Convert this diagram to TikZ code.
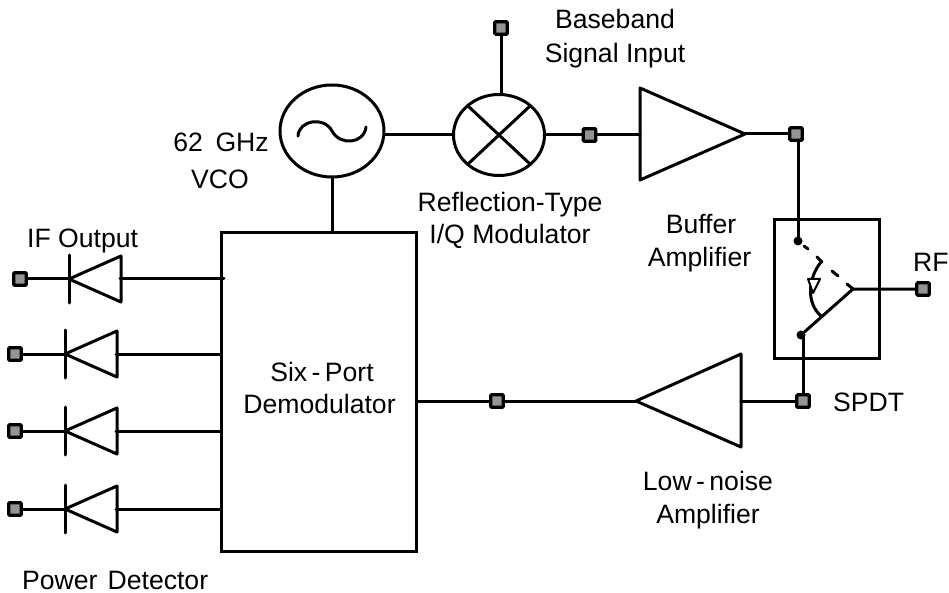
\documentclass[tikz,border=0pt]{standalone}
\usepackage{fontspec}
\setmainfont{Liberation Sans}
\usetikzlibrary{shapes.geometric,calc}
\tikzset{
 wire/.style={line width=3pt,line cap=round,line join=round},
 term/.style={draw=black,fill=black!42,line width=3.2pt,rounded corners=1pt,minimum size=12.5pt,inner sep=0pt},
 circuit/.style={draw=black,line width=3pt,ellipse,inner sep=0pt},
 lbl/.style={anchor=base,inner sep=0pt,font=\fontsize{26.6}{30}\selectfont},
 lbll/.style={lbl,anchor=base west},
 dot/.style={circle,fill=black,inner sep=0pt,minimum size=9pt},
}
\begin{document}
\begin{tikzpicture}[x=1pt,y=-1pt]
\useasboundingbox (0,0) rectangle (949,593);
% blocks
\node[draw=black,line width=3pt,minimum width=195pt,minimum height=318pt,inner sep=0pt] (demod) at (318.5,392) {};
\node[draw=black,line width=3pt,minimum width=105pt,minimum height=138pt,inner sep=0pt] (spdt) at (826.5,289) {};
\node[circuit,minimum width=104pt,minimum height=92pt] (vco) at (332,131) {};
\node[circuit,minimum width=91pt,minimum height=81pt] (mix) at (499,135) {};
% terminals
\node[term] (tbb) at (501,28) {};
\node[term] (tmod) at (589.5,135) {};
\node[term] (tbuf) at (796,134) {};
\node[term] (trf) at (923,289) {};
\node[term] (tlna) at (803,401) {};
\node[term] (tdem) at (497,401) {};
\node[term] (td1) at (20,279) {};
\node[term] (td2) at (15,354) {};
\node[term] (td3) at (15,431) {};
\node[term] (td4) at (15,509) {};
% amplifiers
\coordinate (bufl) at (640,135); \coordinate (bufr) at (745,134);
\draw[wire] (640,88) -- (bufr) -- (640,180) -- cycle;
\coordinate (lnal) at (636,401); \coordinate (lnar) at (741,401);
\draw[wire] (741,354) -- (lnal) -- (741,447) -- cycle;
% mixer cross
\draw[wire] ($(mix.center)+(-31,-29)$) -- ($(mix.center)+(31,29)$);
\draw[wire] ($(mix.center)+(-31,29)$) -- ($(mix.center)+(31,-29)$);
% sine
\draw[wire] (298,136) .. controls (299,120) and (324,116) .. (332,131) .. controls (340,146) and (364,144) .. (366,127);
% diodes
\foreach \n/\x/\y in {1/69/279,2/65/354,3/65/431,4/65/509}{
  \coordinate (dk\n) at (\x,\y);
  \coordinate (da\n) at (\x+51,\y);
  \draw[wire] (\x,\y-24) -- (\x,\y+24);
  \draw[wire] (dk\n) -- (\x+52,\y-23) -- (\x+52,\y+23) -- cycle;
  \draw[wire] (td\n) -- (dk\n);
}
\coordinate (dm1) at (224,279);
\coordinate (dm2) at (221,354);
\coordinate (dm3) at (221,431);
\coordinate (dm4) at (221,509);
\draw[wire] (da1) -- (dm1);
\draw[wire] (da2) -- (dm2);
\draw[wire] (da3) -- (dm3);
\draw[wire] (da4) -- (dm4);
% connectors
\draw[wire] (vco.south) -- (vco.south |- demod.north);
\draw[wire] (mix.west) -- (mix.west -| vco.east);
\draw[wire] (tbb) -- (mix.north -| tbb);
\draw[wire] (mix.east) -- (tmod);
\draw[wire] (tmod) -- (bufl);
\draw[wire] (bufr) -- (tbuf);
\draw[wire] (tdem -| demod.east) -- (tdem);
\draw[wire] (tdem) -- (lnal);
\draw[wire] (lnar) -- (tlna);
% switch
\node[dot] (swa) at (798,241) {};
\node[dot] (swb) at (801,335) {};
\coordinate (swp) at (853,289);
\draw[wire] (tbuf.south -| swa) -- (swa);
\draw[wire] (tlna) -- (swb.center -| tlna);
\draw[wire] (swb) -- (swp) -- (trf);
\draw[wire] (804,246) -- (808,249);
\draw[wire] (817,257) -- (822,262);
\draw[wire] (832,271) -- (838,276);
\draw[wire] (847,284) -- (853,289);
\draw[wire] (821,316) .. controls (806,303) and (808,278) .. (821,262);
\draw[draw=black,fill=white,line width=2pt,line join=round] (808,279) -- (820,279) -- (813,293) -- cycle;
% labels
\node[lbl] (l1) at (615,29) {Baseband};
\node[lbl] (l2) at (615,63) {Signal Input};
\node[lbl] (l3) at (221,152) {62\hspace{.2em} GHz};
\node[lbl] (l4) at (220,189) {VCO};
\node[lbl] (l5) at (510,212) {Reflection-Type};
\node[lbl] (l6) at (510,244) {I/Q Modulator};
\node[lbl] (l7) at (701,234) {Buffer};
\node[lbl] (l8) at (699.5,266) {Amplifier};
\node[lbll] (l9) at (913,272) {RF};
\node[lbll] (l10) at (833,411) {SPDT};
\node[lbl] (l11) at (322,381) {Six\,-\,Port};
\node[lbl] (l12) at (319.5,413) {Demodulator};
\node[lbl] (l13) at (708,490) {Low\,-\,noise};
\node[lbl] (l14) at (708,523) {Amplifier};
\node[lbll] (l15) at (22,589) {Power\hspace{.1em} Detector};
\node[lbll] (l16) at (27,248) {IF Output};
\end{tikzpicture}
\end{document}
